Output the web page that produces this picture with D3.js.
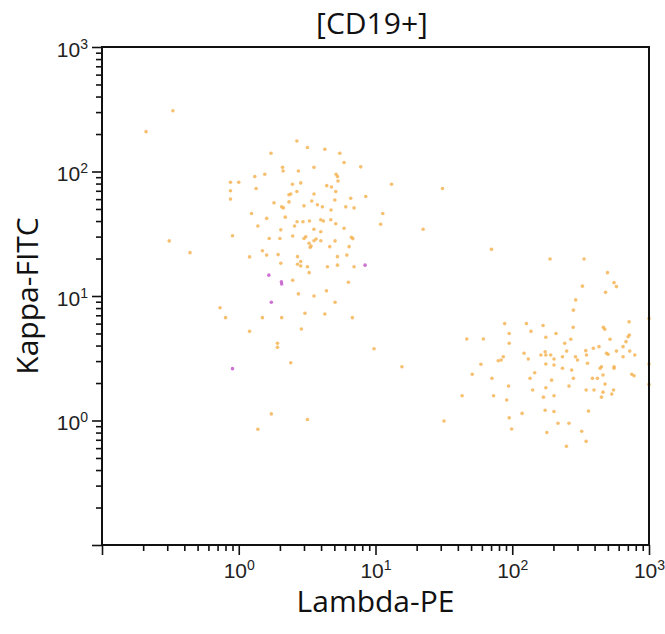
<!DOCTYPE html>
<html>
<head>
<meta charset="utf-8">
<script src="https://cdn.jsdelivr.net/npm/d3@7"></script>
<style>
  html, body { margin: 0; padding: 0; background: #fff; }
  svg { display: block; }
</style>
</head>
<body>
<svg id="chart" width="665" height="634"></svg>
<script>
// CD19+ gated events: Lambda-PE (x) vs Kappa-FITC (y)
const lambdaMain = [
  2.66, 3.18, 4.26, 5.48, 1.72, 5.89, 7.80, 2.09, 2.11, 2.73, 3.55, 1.55, 1.31, 5.15, 5.27, 5.32,
  0.87, 1.00, 2.47, 2.84, 4.40, 4.76, 13.1, 0.87, 1.34, 2.66, 2.40, 2.33, 3.55, 5.12, 6.59, 8.49,
  0.87, 1.81, 2.33, 3.42, 3.76, 5.04, 2.06, 2.12, 3.00, 4.09, 6.06, 6.97, 4.73, 1.24, 2.19, 1.60,
  3.98, 4.16, 4.71, 11.3, 2.67, 2.95, 3.29, 5.12, 5.89, 10.9, 1.38, 2.56, 2.03, 3.55, 3.98, 0.90,
  1.67, 2.00, 2.48, 3.09, 3.00, 3.68, 3.55, 3.98, 5.06, 6.67, 6.82, 3.27, 3.38, 3.33, 4.63, 6.41,
  0.44, 1.49, 1.60, 1.20, 1.94, 2.69, 5.27, 6.17, 2.84, 2.69, 2.84, 2.03, 3.18, 4.45, 5.27, 6.97,
  3.27, 2.48, 6.34, 2.73, 3.55, 4.38, 5.06, 0.73, 0.80, 1.49, 2.06, 3.05, 4.26, 6.78, 1.20, 2.87,
  1.92, 1.92, 9.76, 2.40, 15.6, 1.73, 3.18, 1.38, 0.33, 0.21, 0.31, 30.9, 22.3, 70.5,
  189, 335, 497, 555, 578, 326, 481, 291, 280, 1000, 1000, 1000, 88, 127, 168, 279,
  464, 475, 715, 95, 137, 209, 176, 268, 519, 703, 719, 679, 46.5, 61.5, 95, 242,
  646, 392, 431, 122, 174, 176, 162, 191, 202, 233, 250, 290, 300, 345, 349, 489,
  502, 578, 646, 723, 787, 86, 83, 79, 131, 59, 176, 202, 355, 51, 146, 233,
  272, 439, 449, 555, 555, 71, 135, 194, 280, 386, 420, 461, 748, 778, 94, 176,
  260, 477, 43, 73, 141, 202, 347, 396, 461, 550, 534, 449, 91, 169, 174, 202,
  361, 118, 31.7, 95, 99, 216, 260, 179, 322, 347, 249
];
const kappaMain = [
  176, 156, 151, 140, 140, 118, 109, 108, 101, 101, 108, 95, 91, 95, 91, 84,
  82, 82, 79, 81, 77, 75, 79, 70, 73, 69, 66, 65, 66, 69, 61, 63,
  60, 56, 57, 58, 54, 59, 52, 51, 53, 52, 52, 51, 49, 46, 43, 42,
  41, 40, 41, 46, 39.5, 39.5, 40, 38, 35, 37.7, 36.5, 36.5, 34, 34.4, 32.8, 30.5,
  29, 29, 30.3, 29.9, 29, 28.7, 27.8, 27.8, 27.7, 29.6, 28.9, 26.5, 25.2, 24.6, 24.9, 24.9,
  22.3, 23.1, 21.3, 20.6, 21.5, 20.7, 20.7, 21.3, 18.9, 18.0, 17.4, 18.3, 17.2, 17.2, 17.7, 17.2,
  15.4, 13.4, 12.9, 10.4, 10.0, 11.0, 8.9, 8.05, 6.7, 6.7, 6.7, 7.26, 7.17, 6.7, 5.2, 5.43,
  4.17, 3.87, 3.77, 2.91, 2.70, 1.13, 1.02, 0.85, 308, 209, 27.7, 73, 34.4, 23.7,
  19.8, 19.8, 15.4, 12.8, 11.9, 12.0, 10.7, 9.3, 7.7, 6.6, 2.84, 1.95, 6.0, 6.0, 5.8, 5.6,
  5.6, 5.4, 6.2, 5.0, 5.2, 5.0, 4.66, 4.49, 4.49, 4.71, 4.86, 4.30, 4.52, 4.52, 4.17, 4.17,
  3.92, 3.80, 3.92, 3.47, 3.57, 3.36, 3.36, 3.36, 3.12, 3.25, 3.61, 3.25, 3.06, 3.64, 3.36, 3.47,
  3.40, 3.61, 3.25, 3.61, 3.36, 3.25, 3.06, 3.02, 3.12, 2.83, 2.84, 2.79, 2.88, 2.35, 2.42, 2.63,
  2.54, 2.63, 2.70, 2.70, 2.63, 2.18, 2.18, 2.11, 2.18, 2.18, 2.18, 2.32, 2.35, 2.29, 1.89, 1.83,
  1.89, 1.96, 1.58, 1.58, 1.76, 1.58, 1.76, 1.76, 1.69, 1.76, 1.63, 1.54, 1.46, 1.54, 1.21, 1.18,
  1.19, 1.14, 0.99, 1.05, 0.855, 0.95, 0.95, 0.80, 0.82, 0.68, 0.62
];
// Second (magenta) event population
const lambdaAlt = [8.39, 1.66, 2.05, 2.06, 1.73, 0.90];
const kappaAlt  = [17.7, 14.7, 13.0, 12.5, 8.9, 2.61];

const decadeExps = [-1, 0, 1, 2, 3];
const labelExps = [0, 1, 2, 3];
const titleText = "[CD19+]";
const xTitle = "Lambda-PE";
const yTitle = "Kappa-FITC";

const svg = d3.select("#chart");
const plot = { left: 102, right: 649, top: 47, bottom: 545 };

const x = d3.scaleLog().domain([0.1, 1000]).range([plot.left, plot.right]);
const y = d3.scaleLog().domain([0.1, 1000]).range([plot.bottom, plot.top]);

// minor ticks 2..9 in each decade, majors at powers of ten
const minorVals = [];
decadeExps.slice(0, -1).forEach(e => {
  for (let m = 2; m <= 9; m++) minorVals.push(m * Math.pow(10, e));
});
const majorVals = decadeExps.map(e => Math.pow(10, e));

const tickFont = "'Liberation Sans', Arial, sans-serif";
const titleFont = "'Open Sans', 'DejaVu Sans', sans-serif";

function supLabel(sel, exp) {
  sel.text(null);
  if (!labelExps.includes(exp)) return;
  sel.append("tspan").text("10");
  sel.append("tspan").attr("font-size", 14).attr("dy", -8).text(String(exp));
}

// Points
const mainPts = lambdaMain.map((v, i) => [v, kappaMain[i]]);
const altPts = lambdaAlt.map((v, i) => [v, kappaAlt[i]]);

svg.append("g")
  .selectAll("circle")
  .data(mainPts)
  .join("circle")
  .attr("cx", d => Math.min(x(d[0]), plot.right))
  .attr("cy", d => y(d[1]))
  .attr("r", 1.8)
  .attr("fill", "#f5b04c")
  .attr("fill-opacity", 0.8);

svg.append("g")
  .selectAll("circle")
  .data(altPts)
  .join("circle")
  .attr("cx", d => x(d[0]))
  .attr("cy", d => y(d[1]))
  .attr("r", 1.8)
  .attr("fill", "#c45cc8")
  .attr("fill-opacity", 0.85);

// Y axis
const yMinor = svg.append("g").attr("transform", `translate(${plot.left},0)`)
  .call(d3.axisLeft(y).tickValues(minorVals).tickSize(6).tickFormat(""));
const yMajor = svg.append("g").attr("transform", `translate(${plot.left},0)`)
  .call(d3.axisLeft(y).tickValues(majorVals).tickSize(10).tickPadding(4));
yMajor.selectAll(".tick text")
  .attr("font-family", tickFont)
  .attr("font-size", 21)
  .attr("fill", "#222")
  .attr("dy", "0.45em")
  .each(function(d) { supLabel(d3.select(this), Math.round(Math.log10(d))); });

// X axis
const xMinor = svg.append("g").attr("transform", `translate(0,${plot.bottom})`)
  .call(d3.axisBottom(x).tickValues(minorVals).tickSize(6).tickFormat(""));
const xMajor = svg.append("g").attr("transform", `translate(0,${plot.bottom})`)
  .call(d3.axisBottom(x).tickValues(majorVals).tickSize(10).tickPadding(8));
xMajor.selectAll(".tick text")
  .attr("font-family", tickFont)
  .attr("font-size", 21)
  .attr("fill", "#222")
  .each(function(d) { supLabel(d3.select(this), Math.round(Math.log10(d))); });

[yMinor, yMajor, xMinor, xMajor].forEach(g => {
  g.select(".domain").remove();
  g.selectAll(".tick line").attr("stroke", "#111").attr("stroke-width", 1.6);
});

// Frame
svg.append("rect")
  .attr("x", plot.left).attr("y", plot.top)
  .attr("width", plot.right - plot.left).attr("height", plot.bottom - plot.top)
  .attr("fill", "none").attr("stroke", "#111").attr("stroke-width", 2);

// Titles
svg.append("text")
  .attr("x", 372).attr("y", 34)
  .attr("text-anchor", "middle")
  .attr("font-family", titleFont).attr("font-size", 30).attr("fill", "#111")
  .text(titleText);

svg.append("text")
  .attr("x", (plot.left + plot.right) / 2).attr("y", 612)
  .attr("text-anchor", "middle")
  .attr("font-family", titleFont).attr("font-size", 30).attr("fill", "#111")
  .text(xTitle);

svg.append("text")
  .attr("transform", `translate(38,${(plot.top + plot.bottom) / 2}) rotate(-90)`)
  .attr("text-anchor", "middle")
  .attr("font-family", titleFont).attr("font-size", 30).attr("fill", "#111")
  .text(yTitle);
</script>
</body>
</html>
